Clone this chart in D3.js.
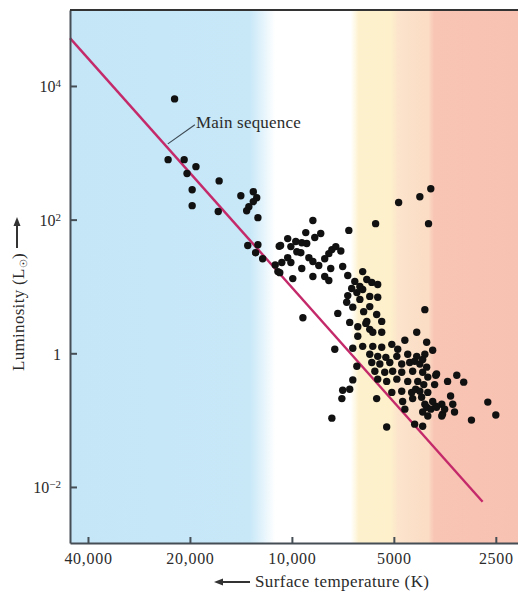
<!DOCTYPE html>
<html>
<head>
<meta charset="utf-8">
<script src="https://cdn.jsdelivr.net/npm/d3@7"></script>
<style>
  body { margin: 0; background: #fff; }
  svg { display: block; font-family: "Liberation Serif", "DejaVu Serif", serif; }
</style>
</head>
<body>
<div id="chart"></div>
<script>
// axis ticks
const xTicks = [40000, 20000, 10000, 5000, 2500];
const xTickLabels = ["40,000", "20,000", "10,000", "5000", "2500"];
const yTicks = [1e4, 1e2, 1, 1e-2];
const yTickBase = ["10", "10", "1", "10"];
const yTickExp = ["4", "2", "", "\u22122"];

// stars: surface temperature (K) and luminosity (L sun)
const starTemp = [
  22200, 23200, 20800, 19200, 20400, 16400, 19700, 19700, 16500, 14150, 13000, 12700,
  13000, 13400, 13600, 12600, 13500, 12600, 12800, 12200, 11200, 11000, 10900,
  4840, 4190, 3890, 3950, 5660,
  8670, 6790, 9100, 8220, 8560, 10290, 9740, 9350, 10800, 10070, 9040, 9670, 9410,
  7620, 7420, 7170, 7780, 8910, 8670, 8000, 10290, 10710, 10070, 8330, 9350, 7680,
  7080, 10860, 8670, 8000, 7780, 9940, 6840, 6180, 6010, 6520, 6300, 6660, 6840,
  6430, 6180, 5810, 5580, 5580, 5890, 6300, 6890, 6610, 6140, 5620, 9280, 7320,
  5890, 5430, 6750, 6010, 6390, 6050, 5890, 6390, 5430, 5770, 7470, 4050,
  5070, 4640, 4280, 4000, 6610, 6180, 5770, 5430, 3840, 4870, 5280, 5890, 5580,
  4900, 4550, 4280, 4050, 5810, 5500, 5140, 4740, 4490, 4190, 6430, 5690, 5320,
  5040, 4740, 4400, 4110, 6610, 5580, 5250, 4900, 4550, 4250, 7080, 6750, 5070,
  4740, 4430, 7120, 5620, 4710, 4400, 4140, 4000, 4640, 7620, 5250, 4340, 4110,
  2640, 2500, 2950, 3260, 3110, 3470, 3400, 3350, 3310, 3590, 3890, 3760, 4050,
  3970, 3760, 3970, 4080, 4310, 4000, 3740, 3790, 4190, 3970, 3840, 3610, 3740,
  3540, 3610, 4110, 4340, 4110
];
const starLum = [
  6400, 790, 790, 620, 490, 380, 280, 162, 132, 228, 261, 213,
  186, 156, 136, 107, 41, 42, 32, 26, 21, 16.7, 40,
  180, 220, 290, 87, 87,
  97, 69, 64, 62, 54, 52, 47, 45, 41, 39.5, 44, 33, 32,
  35.6, 39.5, 34, 31, 27, 23.6, 26, 27, 22.8, 22.8, 20.6, 18.6, 18.6,
  19.9, 16.1, 14.1, 14.1, 12.3, 13.1, 14.6, 16.7, 12.7, 11.9, 10.0, 9.3, 7.3,
  8.1, 9.0, 11.5, 10.7, 6.9, 7.1, 6.4, 5.8, 4.9, 4.2, 3.8, 3.4, 3.95,
  5.0, 3.0, 2.9, 3.0, 2.5, 2.8, 2.28, 1.8, 2.06, 2.06, 1.15, 4.5,
  1.36, 1.57, 2.06, 1.46, 1.19, 1.27, 1.27, 1.23, 1.11, 1.15, 0.87, 0.97, 0.90,
  0.90, 0.97, 0.90, 0.97, 0.73, 0.69, 0.73, 0.69, 0.73, 0.69, 0.64, 0.54, 0.52,
  0.54, 0.52, 0.54, 0.52, 0.40, 0.41, 0.38, 0.41, 0.38, 0.38, 0.28, 0.29, 0.26,
  0.27, 0.26, 0.21, 0.21, 0.19, 0.21, 0.22, 0.156, 0.146, 0.107, 0.079, 0.087, 0.081,
  0.186, 0.119, 0.100, 0.47, 0.37, 0.38, 0.23, 0.173, 0.132, 0.123, 0.146, 0.162, 0.173,
  0.115, 0.47, 0.44, 0.34, 0.29, 0.62, 0.49, 0.34, 0.27, 0.26, 0.19, 0.173, 0.156,
  0.146, 0.115, 0.132, 0.76, 0.81
];

// main sequence line ends
const mainSeqTemp = [45200, 2735];
const mainSeqLum = [52000, 0.006];

// background colour bands by temperature
const bandTemp = [45200, 13300, 11200, 6700, 6350, 5100, 4850, 3950, 3800, 2150];
const bandColor = ["#c4e6f7", "#c8e8f8", "#ffffff", "#ffffff", "#fdf1cd", "#fdf0cb",
                   "#fce3cc", "#fbdcc4", "#f8c4b4", "#f8c2b2"];

const width = 518, height = 593;
const margin = { top: 10, right: 0, bottom: 50, left: 70 },
      innerW = width - margin.left - margin.right,
      innerH = height - margin.top - margin.bottom;

const svg = d3.select("#chart")
    .append("svg")
    .attr("width", width)
    .attr("height", height);

const g = svg.append("g")
    .attr("transform", `translate(${margin.left},${margin.top})`);

const x = d3.scaleLog().domain([45200, 2150]).range([0, innerW]);
const y = d3.scaleLog().domain([0.00145, 137000]).range([innerH, 0]);

// background
const grad = svg.append("defs").append("linearGradient")
    .attr("id", "bands")
    .attr("gradientUnits", "userSpaceOnUse")
    .attr("x1", 0).attr("x2", innerW).attr("y1", 0).attr("y2", 0);
grad.selectAll("stop")
    .data(bandTemp)
    .join("stop")
    .attr("offset", d => x(d) / innerW)
    .attr("stop-color", (d, i) => bandColor[i]);

g.append("rect")
    .attr("width", innerW)
    .attr("height", innerH)
    .attr("fill", "url(#bands)");

// main sequence
const line = d3.line().x(d => x(d[0])).y(d => y(d[1]));
g.append("path")
    .datum(mainSeqTemp.map((t, i) => [t, mainSeqLum[i]]))
    .attr("d", line)
    .attr("fill", "none")
    .attr("stroke", "#c42a6a")
    .attr("stroke-width", 2.4);

// stars
g.selectAll("circle.star")
    .data(starTemp.map((t, i) => [t, starLum[i]]))
    .join("circle")
    .attr("class", "star")
    .attr("cx", d => x(d[0]))
    .attr("cy", d => y(d[1]))
    .attr("r", 3.7)
    .attr("fill", "#111");

// annotation
g.append("line")
    .attr("x1", x(23240)).attr("y1", y(1360))
    .attr("x2", x(19340)).attr("y2", y(2620))
    .attr("stroke", "#3d4a55")
    .attr("stroke-width", 1.2);
g.append("text")
    .attr("x", x(19200))
    .attr("y", y(2360))
    .attr("font-size", 17)
    .attr("letter-spacing", 0.2)
    .attr("fill", "#2b2b2b")
    .text("Main sequence");

// axes
const xAxis = g.append("g")
    .attr("transform", `translate(0,${innerH})`)
    .call(d3.axisBottom(x)
        .tickValues(xTicks)
        .tickFormat((d, i) => xTickLabels[i])
        .tickSize(-6)
        .tickSizeOuter(0)
        .tickPadding(10));

const yAxis = g.append("g")
    .call(d3.axisLeft(y)
        .tickValues(yTicks)
        .tickFormat("")
        .tickSize(-7)
        .tickSizeOuter(0)
        .tickPadding(9));

yAxis.selectAll(".tick text").each(function (d, i) {
    const t = d3.select(this).attr("dy", "0.36em");
    t.append("tspan").text(yTickBase[i]);
    if (yTickExp[i]) {
        t.append("tspan").attr("dy", "-0.45em").attr("font-size", 11).text(yTickExp[i]);
    }
});

[xAxis, yAxis].forEach(a => {
    a.select(".domain").attr("stroke", "#454d55").attr("stroke-width", 2);
    a.selectAll(".tick line").attr("stroke", "#454d55").attr("stroke-width", 2);
    a.selectAll(".tick text")
        .attr("font-family", "Liberation Serif, DejaVu Serif, serif")
        .attr("font-size", 16)
        .attr("fill", "#2b2b2b");
});
xAxis.selectAll(".tick text").attr("letter-spacing", 0.7);

// top frame
g.append("line")
    .attr("x1", 0).attr("x2", innerW)
    .attr("y1", 0).attr("y2", 0)
    .attr("stroke", "#333")
    .attr("stroke-width", 2);

// axis titles with arrows
function arrow(x1, y1, x2, y2) {
    const a = Math.atan2(y2 - y1, x2 - x1), h = 9, w = 3.5;
    svg.append("line")
        .attr("x1", x1).attr("y1", y1)
        .attr("x2", x2 - Math.cos(a) * h * 0.8).attr("y2", y2 - Math.sin(a) * h * 0.8)
        .attr("stroke", "#333").attr("stroke-width", 2);
    const bx = x2 - Math.cos(a) * h, by = y2 - Math.sin(a) * h;
    svg.append("path")
        .attr("d", `M${x2},${y2}L${bx - Math.sin(a) * w},${by + Math.cos(a) * w}` +
                   `L${bx + Math.sin(a) * w},${by - Math.cos(a) * w}Z`)
        .attr("fill", "#333");
}

svg.append("text")
    .attr("x", 255)
    .attr("y", 587)
    .attr("font-size", 17)
    .attr("letter-spacing", 0.4)
    .attr("fill", "#2b2b2b")
    .text("Surface temperature (K)");
arrow(250, 582, 214, 582);

const yTitle = svg.append("text")
    .attr("transform", "translate(24,312) rotate(-90)")
    .attr("text-anchor", "middle")
    .attr("font-size", 17)
    .attr("letter-spacing", 0.3)
    .attr("fill", "#2b2b2b");
yTitle.append("tspan").text("Luminosity (L");
yTitle.append("tspan").attr("font-size", 10).attr("dy", "0.3em").text("\u2609");
yTitle.append("tspan").attr("dy", "-0.18em").text(")");
arrow(17, 248, 17, 217);
</script>
</body>
</html>
